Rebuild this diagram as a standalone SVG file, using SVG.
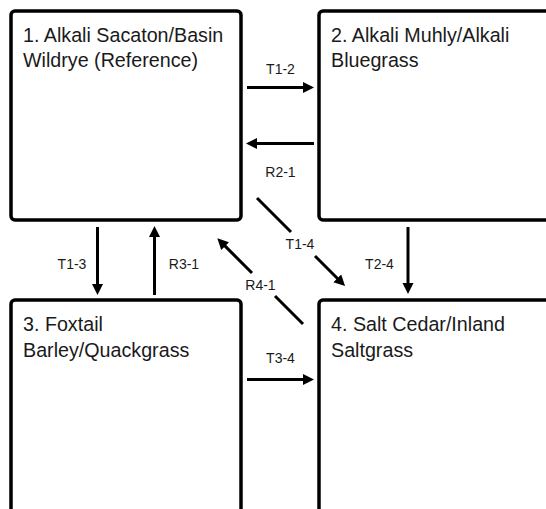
<svg xmlns="http://www.w3.org/2000/svg" width="546" height="509" viewBox="0 0 546 509">
<style>
.box{fill:#fff;stroke:#000;stroke-width:3.5}
.title{font-family:"Liberation Sans",Arial,sans-serif;font-size:19.7px;fill:#1a1a1a}
.lbl{font-family:"Liberation Sans",Arial,sans-serif;font-size:14px;fill:#1a1a1a;text-anchor:middle}
.conn{fill:none;stroke:#000;stroke-width:3;marker-end:url(#ah)}
</style>
<defs>
<marker id="ah" markerUnits="userSpaceOnUse" markerWidth="12" markerHeight="12" refX="1" refY="5.5" orient="auto">
<path d="M0,0 L11,5.5 L0,11 z" fill="#000"/>
</marker>
</defs>
<rect width="546" height="509" fill="#fff"/>
<g id="node1">
<rect class="box" x="11" y="11" width="230" height="209" rx="4"/>
<text class="title" x="23" y="42">1. Alkali Sacaton/Basin</text>
<text class="title" x="23" y="67">Wildrye (Reference)</text>
</g>
<g id="node2">
<rect class="box" x="319" y="11" width="260" height="209" rx="4"/>
<text class="title" x="331" y="42">2. Alkali Muhly/Alkali</text>
<text class="title" x="331" y="67">Bluegrass</text>
</g>
<g id="node3">
<rect class="box" x="11" y="300" width="230" height="240" rx="4"/>
<text class="title" x="23" y="331">3. Foxtail</text>
<text class="title" x="23" y="357">Barley/Quackgrass</text>
</g>
<g id="node4">
<rect class="box" x="319" y="300" width="260" height="240" rx="4"/>
<text class="title" x="331" y="331">4. Salt Cedar/Inland</text>
<text class="title" x="331" y="357">Saltgrass</text>
</g>
<g id="connectors">
<path class="conn" d="M247,87.5 L304,87.5"/>
<path class="conn" d="M314,143.5 L256,143.5"/>
<path class="conn" d="M247,379.5 L304,379.5"/>
<path class="conn" d="M97.5,227 L97.5,285"/>
<path class="conn" d="M154.5,295 L154.5,236"/>
<path class="conn" d="M408,227 L408,284"/>
<path class="conn" d="M257,198 L291,232 M315,256 L338,279"/>
<path class="conn" d="M303,324 L275,296 M252,273 L224.4,245.4"/>
<text class="lbl" x="280.5" y="74">T1-2</text>
<text class="lbl" x="280.5" y="177">R2-1</text>
<text class="lbl" x="300" y="249">T1-4</text>
<text class="lbl" x="260.5" y="290">R4-1</text>
<text class="lbl" x="72" y="269">T1-3</text>
<text class="lbl" x="184" y="269">R3-1</text>
<text class="lbl" x="379.5" y="269">T2-4</text>
<text class="lbl" x="280.5" y="363">T3-4</text>
</g>
</svg>
